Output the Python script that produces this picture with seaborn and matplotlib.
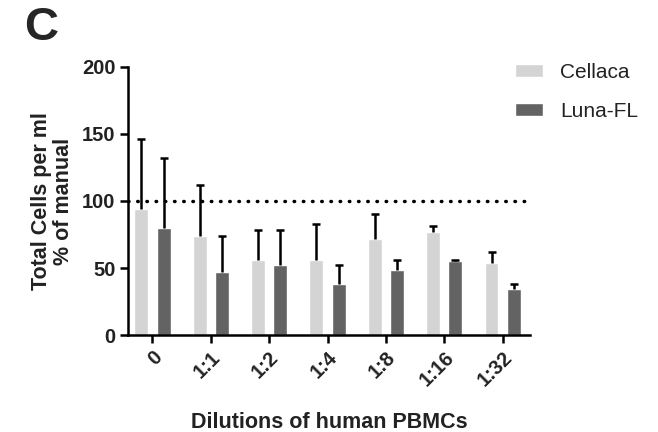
import matplotlib
matplotlib.use("Agg")
import matplotlib.pyplot as plt
import seaborn as sns
import numpy as np
import pandas as pd

categories = ["0", "1:1", "1:2", "1:4", "1:8", "1:16", "1:32"]
series_names = ["Cellaca", "Luna-FL"]
cellaca_mean = [94, 74, 56, 56, 72, 77, 54]
cellaca_err = [52, 38, 22, 27, 18, 4.5, 8]
luna_mean = [80, 47, 52, 38, 48.5, 55, 34.5]
luna_err = [52, 27, 26, 14, 7.5, 1, 3.5]
reference_value = 100

sns.set_theme(style="ticks")
plt.rcParams['font.family'] = ['Liberation Sans', 'DejaVu Sans']

df = pd.DataFrame({
    "Dilution": categories * 2,
    "Value": cellaca_mean + luna_mean,
    "Err": cellaca_err + luna_err,
    "Device": [series_names[0]] * len(categories) + [series_names[1]] * len(categories),
})

fig = plt.figure(figsize=(6.58, 4.32), dpi=100)
ax = fig.add_axes([0.1945, 0.2245, 0.611, 0.6205])

palette = {"Cellaca": "#d4d4d4", "Luna-FL": "#636363"}
sns.barplot(data=df, x="Dilution", y="Value", hue="Device", order=categories,
            hue_order=series_names, palette=palette, errorbar=None,
            width=0.76, gap=0.37, ax=ax, legend=True, saturation=1)

# error bars (upper only)
for i, name in enumerate(series_names):
    sub = df[df["Device"] == name]
    bars = ax.containers[i]
    xs = [b.get_x() + b.get_width() / 2 for b in bars]
    ys = sub["Value"].to_numpy()
    es = sub["Err"].to_numpy()
    _, caps, _ = ax.errorbar(xs, ys, yerr=[np.zeros_like(es), es], fmt="none",
                             ecolor="black", elinewidth=1.8, capsize=3,
                             capthick=1.8, zorder=3)
    # hide the lower caps (sitting on the bar tops)
    for c in caps:
        if np.allclose(c.get_ydata(), ys):
            c.set_visible(False)

ax.axhline(reference_value, color="black", linestyle=(0, (0.15, 2.5)),
           linewidth=2.5, dash_capstyle="round", zorder=4)

ax.set_ylim(0, 200)
ax.set_xlim(-0.42, 6.47)
ax.set_yticks([0, 50, 100, 150, 200])
for sp in ["top", "right"]:
    ax.spines[sp].set_visible(False)
for sp in ["left", "bottom"]:
    ax.spines[sp].set_linewidth(1.8)
    ax.spines[sp].set_color("black")
ax.tick_params(axis="both", width=1.8, length=6, color="black",
               labelsize=14.5, labelcolor="#222222", pad=3)
for lab in ax.get_yticklabels():
    lab.set_fontweight("bold")
ax.set_xticks(range(len(categories)))
ax.set_xticklabels(categories, rotation=45, ha="right", va="top",
                   rotation_mode="anchor", fontweight="bold", fontsize=14.5)

ax.set_xlabel("Dilutions of human PBMCs", fontsize=15.5, fontweight="bold",
              color="#222222", labelpad=16)
ax.set_ylabel("Total Cells per ml\n% of manual", fontsize=15.5, fontweight="bold",
              color="#222222", labelpad=6, linespacing=1.05)

leg = ax.legend(loc="upper left", bbox_to_anchor=(0.963, 1.015), frameon=False,
                fontsize=15, handlelength=1.35, handleheight=0.6,
                handletextpad=0.8, labelspacing=0.95, borderpad=0,
                borderaxespad=0)
for t in leg.get_texts():
    t.set_color("#222222")

fig.text(0.036, 0.985, "C", fontsize=34, fontweight="bold", va="top", ha="left")

fig.savefig("out.png", dpi=100)
